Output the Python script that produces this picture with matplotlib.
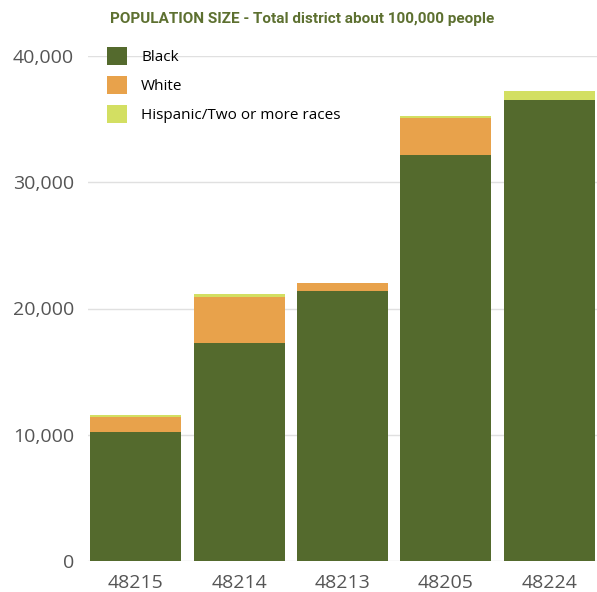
import matplotlib
matplotlib.use('Agg')
import matplotlib.pyplot as plt
import numpy as np

zips = ['48215', '48214', '48213', '48205', '48224']
black = [10250, 17250, 21350, 32150, 36500]
white = [1130, 3680, 650, 2900, 0]
hispanic = [180, 220, 0, 190, 730]

c_black = '#546a2d'
c_white = '#e8a24b'
c_hisp = '#d3df62'

fig = plt.figure(figsize=(5.97, 5.92), dpi=100)
ax = fig.add_axes([88/597, 1-561/592, 509/597, (561-56)/592])

x = np.arange(len(zips))
w = 0.88
b1 = np.array(black)
b2 = b1 + np.array(white)
ax.bar(x, black, w, color=c_black, label='Black', zorder=3)
ax.bar(x, white, w, bottom=b1, color=c_white, label='White', zorder=3)
ax.bar(x, hispanic, w, bottom=b2, color=c_hisp, label='Hispanic/Two or more races', zorder=3)

ax.set_xlim(-0.46, 4.46)
ax.set_ylim(0, 40000)
ax.set_yticks([0, 10000, 20000, 30000, 40000])
ax.set_yticklabels(['0', '10,000', '20,000', '30,000', '40,000'])
ax.set_xticks(x)
ax.set_xticklabels(zips)
ax.grid(axis='y', color='#e0e0e0', linewidth=1, zorder=0)
for s in ax.spines.values():
    s.set_visible(False)
ax.tick_params(length=0, labelsize=14, labelcolor='#555555', pad=9)
ax.tick_params(axis='y', pad=10)
for lab in ax.get_xticklabels() + ax.get_yticklabels():
    lab.set_family(['Open Sans', 'DejaVu Sans'])

ax.legend(loc='upper left', bbox_to_anchor=(93/597, 1-33/592), bbox_transform=fig.transFigure,
          frameon=False, handlelength=1.35, handleheight=1.5,
          labelspacing=0.68, handletextpad=0.9,
          prop={'family': ['Open Sans', 'DejaVu Sans'], 'size': 11})

fig.text(302/597, 1-19/592, 'POPULATION SIZE - Total district about 100,000 people',
         ha='center', va='center', fontsize=11, fontweight='bold', color='#5d7030',
         family=['Roboto', 'DejaVu Sans'])

fig.savefig('out.png', dpi=100)
